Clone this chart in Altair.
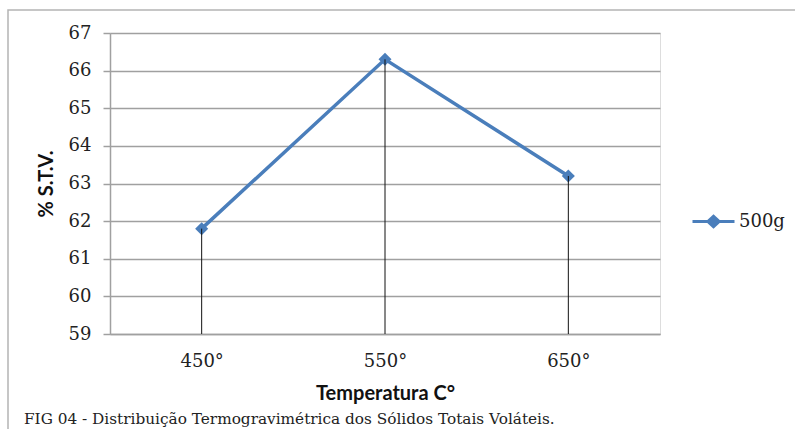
import altair as alt
import pandas as pd

categories = ["450°", "550°", "650°"]
values = [61.8, 66.3, 63.2]
series_name = "500g"
y_ticks = [59, 60, 61, 62, 63, 64, 65, 66, 67]
caption = "FIG 04 - Distribuição Termogravimétrica dos Sólidos Totais Voláteis."

df = pd.DataFrame({"temp": categories, "pct": values, "serie": [series_name] * len(categories)})
BLUE = "#4A7EBB"
LABEL_FONT = "DejaVu Serif"
TITLE_FONT = "Lato"

xscale = alt.Scale(type="point", padding=0.5, domain=categories)
yscale = alt.Scale(domain=[59, 67], nice=False, zero=False)

x_axis = alt.Axis(
    title="Temperatura C°", labelAngle=0, ticks=False, domainColor="#A0A0A0", domainWidth=1.5,
    labelFont=LABEL_FONT, labelFontSize=18, labelColor="#222222", labelPadding=18,
    titleFont=TITLE_FONT, titleFontWeight="bold", titleFontSize=20, titleColor="#111111",
    titlePadding=13, grid=False, labelOverlap=False,
)
y_axis = alt.Axis(
    title="% S.T.V.", values=y_ticks, tickSize=7, tickColor="#A0A0A0", tickWidth=1.5,
    domainColor="#A0A0A0", domainWidth=1.5, gridColor="#A0A0A0", gridWidth=1.5,
    labelFont=LABEL_FONT, labelFontSize=18, labelColor="#222222", labelPadding=12,
    titleFont=TITLE_FONT, titleFontWeight="bold", titleFontSize=20, titleColor="#111111",
    titlePadding=12, labelOverlap=False, format="d",
)

x_enc = alt.X("temp:N", scale=xscale, sort=categories, axis=x_axis)
y_enc = alt.Y("pct:Q", scale=yscale, axis=y_axis)

legend_symbol = "M-1,0H1M-0.27,0L0,-0.25L0.27,0L0,0.25Z"

color_enc = alt.Color(
    "serie:N", scale=alt.Scale(range=[BLUE]),
    legend=alt.Legend(
        title=None, orient="none", legendX=581, legendY=166, padding=0,
        symbolType=legend_symbol, symbolSize=1764, symbolStrokeWidth=3,
        symbolFillColor=BLUE, symbolStrokeColor=BLUE,
        labelFont=LABEL_FONT, labelFontSize=18, labelColor="#222222", labelOffset=3,
    ),
)

frame = alt.Chart(pd.DataFrame({"a": [0]})).mark_rect(
    fill=None, stroke="#B4B4B4", strokeWidth=1.5, clip=False
).encode(x=alt.value(-102), x2=alt.value(700), y=alt.value(-23), y2=alt.value(420))

line = alt.Chart(df).mark_line(strokeWidth=3.5).encode(x=x_enc, y=y_enc, color=color_enc)
points = alt.Chart(df).mark_point(shape="diamond", filled=True, size=170, opacity=1).encode(
    x=x_enc, y=y_enc, color=color_enc,
)
rules = alt.Chart(df).mark_rule(color="#111111", strokeWidth=1).encode(
    x=x_enc, y=y_enc, y2=alt.datum(59),
)
cap = alt.Chart(pd.DataFrame({"t": [caption]})).mark_text(
    font=LABEL_FONT, fontSize=15.3, color="#222222", align="left", baseline="alphabetic"
).encode(text="t:N", x=alt.value(-86), y=alt.value(391))

chart = alt.layer(frame, line, points, rules, cap).properties(
    width=550, height=301,
    autosize=alt.AutoSizeParams(type="none"),
    padding={"left": 110, "top": 33, "right": 135, "bottom": 95},
).configure_view(stroke="transparent", strokeWidth=0).configure(background="white")

chart.save("out.html", embed_options={"renderer": "svg", "actions": False})
